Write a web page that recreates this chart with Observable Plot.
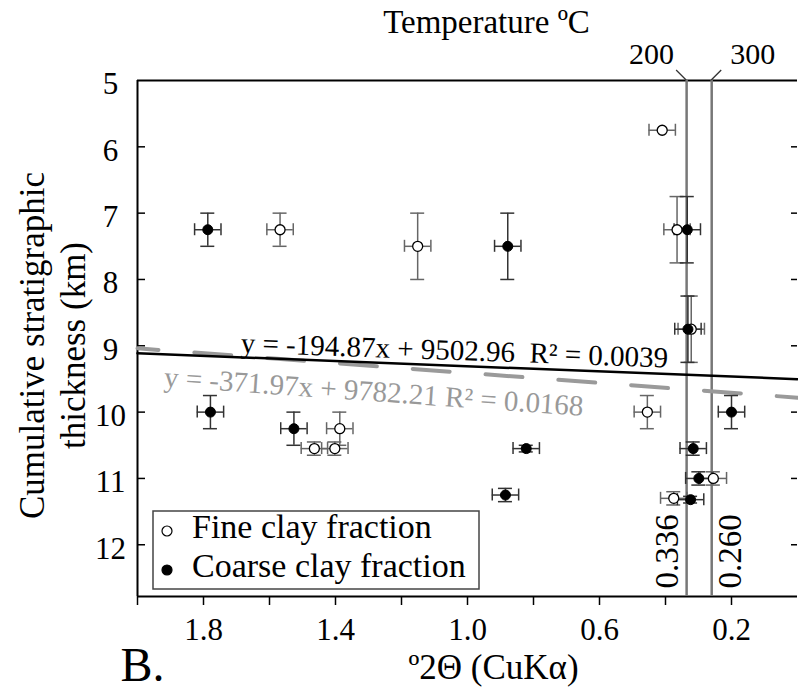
<!DOCTYPE html>
<html>
<head>
<meta charset="utf-8">
<script src="https://cdn.jsdelivr.net/npm/d3@7"></script>
<script src="https://cdn.jsdelivr.net/npm/@observablehq/plot@0.6"></script>
<style>
  html, body { margin: 0; padding: 0; background: #fff; }
  #chart svg { display: block; }
  #chart svg, #chart svg text, #chart svg tspan { font-family: "Liberation Serif", "Times New Roman", serif !important; }
</style>
</head>
<body>
<div id="chart"></div>
<script>
// Fine clay fraction (open circles): illite crystallinity (°2θ) vs cumulative thickness (km)
const fineTheta    = [1.568, 1.151, 0.410, 0.365, 0.322, 0.455, 1.387, 1.464, 1.402, 0.255, 0.375];
const fineDepth    = [7.25,  7.50,  5.75,  7.25,  8.75,  10.00, 10.25, 10.55, 10.55, 11.00, 11.30];
const fineThetaErr = [0.04,  0.04,  0.04,  0.04,  0.04,  0.04,  0.04,  0.04,  0.04,  0.04,  0.04];
const fineDepthErr = [0.25,  0.50,  0.00,  0.50,  0.50,  0.25,  0.25,  0.10,  0.10,  0.10,  0.10];

// Coarse clay fraction (filled circles)
const coarseTheta    = [1.787, 0.878, 0.334, 0.332, 1.779, 1.526, 0.200, 0.822, 0.316, 0.885, 0.299, 0.324];
const coarseDepth    = [7.25,  7.50,  7.25,  8.75,  10.00, 10.25, 10.00, 10.55, 10.55, 11.25, 11.00, 11.32];
const coarseThetaErr = [0.04,  0.04,  0.04,  0.04,  0.04,  0.04,  0.04,  0.04,  0.04,  0.04,  0.04,  0.04];
const coarseDepthErr = [0.25,  0.50,  0.50,  0.50,  0.25,  0.25,  0.25,  0.05,  0.10,  0.10,  0.10,  0.05];

// Linear fits, thickness (m) = slope * °2θ + intercept
const fitSlope     = [-194.87, -371.97];
const fitIntercept = [9502.96, 9782.21];
const fitR2        = ["0.0039", "0.0168"];

// Illite crystallinity boundaries and their temperatures
const boundaryTheta = [0.336, 0.260];
const boundaryLabel = ["0.336", "0.260"];
const boundaryTemp  = ["200", "300"];

// Axis ticks
const xTicks      = [2.0, 1.8, 1.6, 1.4, 1.2, 1.0, 0.8, 0.6, 0.4, 0.2];
const xTickLabels = ["1.8", "1.4", "1.0", "0.6", "0.2"];
const yTicks      = [5, 6, 7, 8, 9, 10, 11, 12];

const xDomain = [2.0, 0.0];
const yDomain = [5, 12.78];

const toRows = (t, d, te, de) => t.map((x, i) => ({x, y: d[i], xe: te[i], ye: de[i]}));
const fine = toRows(fineTheta, fineDepth, fineThetaErr, fineDepthErr);
const coarse = toRows(coarseTheta, coarseDepth, coarseThetaErr, coarseDepthErr);

// Fit lines evaluated across the x domain
const fits = fitSlope.map((m, k) =>
  xDomain.map(x => ({fit: k, x, y: (m * x + fitIntercept[k]) / 1000}))
);

const fmt = v => v.toFixed(2);
const eqText = k => `y = ${fmt(fitSlope[k])}x + ${fmt(fitIntercept[k])}` + (k === 0 ? "  " : " ") + `R² = ${fitR2[k]}`;

const W = 798, H = 690;
const mL = 137, mR = 1, mT = 80, mB = 94;
const plotW = W - mL - mR;
const serif = "Liberation Serif, Times New Roman, serif";

function errorMarks(rows, color) {
  const withY = rows.filter(d => d.ye > 0);
  return [
    // horizontal error bars and caps
    Plot.ruleY(rows, {y: "y", x1: d => d.x - d.xe, x2: d => d.x + d.xe, stroke: color, strokeWidth: 1.5}),
    Plot.ruleX(rows, {x: d => d.x - d.xe, y1: "y", y2: "y", insetTop: -6, insetBottom: -6, stroke: color, strokeWidth: 1.5}),
    Plot.ruleX(rows, {x: d => d.x + d.xe, y1: "y", y2: "y", insetTop: -6, insetBottom: -6, stroke: color, strokeWidth: 1.5}),
    // vertical error bars and caps
    Plot.ruleX(withY, {x: "x", y1: d => d.y - d.ye, y2: d => d.y + d.ye, stroke: color, strokeWidth: 1.5}),
    Plot.ruleY(withY, {y: d => d.y - d.ye, x1: "x", x2: "x", insetLeft: -7, insetRight: -7, stroke: color, strokeWidth: 1.5}),
    Plot.ruleY(withY, {y: d => d.y + d.ye, x1: "x", x2: "x", insetLeft: -7, insetRight: -7, stroke: color, strokeWidth: 1.5})
  ];
}

// Leader ticks from the temperature labels down to the boundary lines
function leaders(index, scales, values, dimensions) {
  const g = d3.create("svg:g").attr("stroke", "#333").attr("stroke-width", 1.3);
  const top = dimensions.marginTop;
  boundaryTheta.forEach((t, i) => {
    const px = scales.x(t);
    const dir = i === 0 ? -1 : 1;
    g.append("line").attr("x1", px).attr("y1", top).attr("x2", px + dir * 10).attr("y2", top - 10);
  });
  return g.node();
}

// Boxed legend in the lower-left corner of the frame
function legendBox(index, scales, values, dimensions) {
  const left = dimensions.marginLeft + 16;
  const bottom = dimensions.height - dimensions.marginBottom;
  const top = bottom - 85;
  const g = d3.create("svg:g");
  g.append("rect").attr("x", left).attr("y", top).attr("width", 326).attr("height", 78)
    .attr("fill", "white").attr("stroke", "#444").attr("stroke-width", 1.5);
  const items = [
    {label: "Fine clay fraction", fill: "white", base: top + 27},
    {label: "Coarse clay fraction", fill: "black", base: top + 66}
  ];
  for (const it of items) {
    g.append("circle").attr("cx", left + 14).attr("cy", it.base - 7).attr("r", 5)
      .attr("fill", it.fill).attr("stroke", "black").attr("stroke-width", 1.2);
    g.append("text").attr("x", left + 39).attr("y", it.base).attr("text-anchor", "start")
      .attr("font-family", serif).attr("font-size", 34).attr("fill", "black").text(it.label);
  }
  return g.node();
}

const marks = [
  // frame: left, top and bottom edges
  Plot.ruleX([2.0], {stroke: "black", strokeWidth: 2}),
  Plot.ruleY([yDomain[0], yDomain[1]], {stroke: "black", strokeWidth: 2}),

  // ticks: inward on left and right, outward below
  Plot.tickY(yTicks.slice(1), {y: d => d, insetRight: plotW - 8, stroke: "black", strokeWidth: 1.5}),
  Plot.tickY(yTicks.slice(1), {y: d => d, insetLeft: plotW - 6, stroke: "black", strokeWidth: 1.5}),
  Plot.tickX(xTicks, {x: d => d, insetTop: H - mT - mB, insetBottom: -9, stroke: "black", strokeWidth: 1.5}),

  // tick labels
  Plot.text(yTicks, {y: d => d, text: d => String(d), frameAnchor: "left", dx: -27, dy: 4,
    textAnchor: "middle", fontSize: 31, fill: "black"}),
  Plot.text(xTickLabels, {x: d => +d, text: d => d, frameAnchor: "bottom", dy: 43,
    lineAnchor: "bottom", textAnchor: "middle", fontSize: 31, fill: "black"}),

  // axis titles
  Plot.text(["º2Θ (CuKα)"], {frameAnchor: "bottom", dx: 26, dy: 82, lineAnchor: "bottom",
    fontSize: 35, fill: "black"}),
  Plot.text(["B."], {frameAnchor: "bottom-left", dx: -17, dy: 84, lineAnchor: "bottom",
    textAnchor: "start", fontSize: 48, fill: "black"}),
  Plot.text(["Cumulative stratigraphic\nthickness (km)"], {frameAnchor: "left", dx: -53, dy: 7,
    rotate: -90, lineAnchor: "bottom", lineHeight: 1.15, textAnchor: "middle", fontSize: 35, fill: "black"}),
  Plot.text(["Temperature ºC"], {frameAnchor: "top", dx: 19, dy: -48, lineAnchor: "bottom",
    fontSize: 33, fill: "black"}),

  // temperature boundaries
  Plot.ruleX(boundaryTheta, {x: d => d, stroke: "#777", strokeWidth: 2.5}),
  Plot.text([boundaryTemp[0]], {x: () => boundaryTheta[0], frameAnchor: "top", dx: -35, dy: -17,
    lineAnchor: "bottom", fontSize: 30, fill: "black"}),
  Plot.text([boundaryTemp[1]], {x: () => boundaryTheta[1], frameAnchor: "top", dx: 41, dy: -17,
    lineAnchor: "bottom", fontSize: 30, fill: "black"}),
  leaders,
  Plot.text([boundaryLabel[0]], {x: () => boundaryTheta[0], frameAnchor: "bottom", dx: -9, dy: -8,
    rotate: -90, textAnchor: "start", lineAnchor: "bottom", fontSize: 33, fill: "black"}),
  Plot.text([boundaryLabel[1]], {x: () => boundaryTheta[1], frameAnchor: "bottom", dx: 29, dy: -8,
    rotate: -90, textAnchor: "start", lineAnchor: "bottom", fontSize: 33, fill: "black"}),

  // regression lines
  Plot.line(fits[1], {x: "x", y: "y", stroke: "#9a9a9a", strokeWidth: 4,
    strokeDasharray: "37,36", strokeDashoffset: 16}),
  Plot.line(fits[0], {x: "x", y: "y", stroke: "black", strokeWidth: 2.5}),
  Plot.text([eqText(0)], {frameAnchor: "top-left", dx: 103, dy: 272, rotate: 2,
    lineAnchor: "bottom", textAnchor: "start", fontSize: 29, fill: "black"}),
  Plot.text([eqText(1)], {frameAnchor: "top-left", dx: 26, dy: 306, rotate: 4,
    lineAnchor: "bottom", textAnchor: "start", fontSize: 29, fill: "#999"}),

  // data with error bars
  ...errorMarks(fine, "#666"),
  ...errorMarks(coarse, "#333"),
  Plot.dot(fine, {x: "x", y: "y", r: 5, fill: "white", stroke: "black", strokeWidth: 1.3}),
  Plot.dot(coarse, {x: "x", y: "y", r: 5, fill: "black", stroke: "black", strokeWidth: 1}),

  legendBox
];

const chart = Plot.plot({
  width: W,
  height: H,
  marginLeft: mL,
  marginRight: mR,
  marginTop: mT,
  marginBottom: mB,
  style: {background: "white", color: "black", overflow: "visible"},
  x: {domain: xDomain, axis: null},
  y: {domain: yDomain, reverse: true, axis: null},
  marks
});

document.getElementById("chart").appendChild(chart);
</script>
</body>
</html>
